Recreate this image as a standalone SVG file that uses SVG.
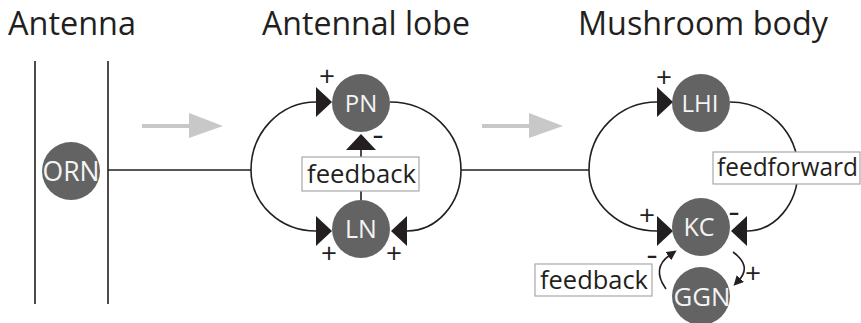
<svg xmlns="http://www.w3.org/2000/svg" width="861" height="323" viewBox="0 0 861 323">
<style>
.title{font-family:"Open Sans","Noto Sans",sans-serif;font-size:32px;fill:#231f20}
.node circle{fill:#636363}
.node text{font-family:"Open Sans","Noto Sans",sans-serif;fill:#f4f4f4;text-anchor:middle}
.conn{fill:none;stroke:#231f20;stroke-width:1.6}
.gray{stroke:#c8c8c8;stroke-width:4;fill:none}
.grayhead{fill:#c8c8c8}
.sign{font-family:"Open Sans","Noto Sans",sans-serif;font-size:28px;fill:#231f20;text-anchor:middle}
.minus{font-family:"Open Sans","Noto Sans",sans-serif;font-size:20px;font-weight:bold;fill:#231f20;text-anchor:middle}
.box rect{fill:#fff;stroke:#a8a8a8;stroke-width:1.2}
.box text{font-family:"Open Sans","Noto Sans",sans-serif;font-size:25px;fill:#231f20}
</style>
<defs>
<marker id="tri" markerUnits="userSpaceOnUse" markerWidth="16" markerHeight="30" viewBox="0 0 16 30" refX="0" refY="15" orient="auto">
<path d="M0,0 L16,15 L0,30 Z" fill="#231f20"/>
</marker>
<marker id="small" markerUnits="userSpaceOnUse" markerWidth="10" markerHeight="10" viewBox="0 0 10 10" refX="2" refY="5" orient="auto">
<path d="M0,0 L10,5 L0,10 Z" fill="#231f20"/>
</marker>
</defs>
<rect width="861" height="323" fill="#fff"/>

<g id="titles">
<text class="title" x="8" y="35" textLength="128" lengthAdjust="spacingAndGlyphs">Antenna</text>
<text class="title" x="262" y="35" textLength="208" lengthAdjust="spacingAndGlyphs">Antennal lobe</text>
<text class="title" x="578" y="35" textLength="250" lengthAdjust="spacingAndGlyphs">Mushroom body</text>
</g>

<g id="antenna">
<line class="conn" x1="35" y1="61" x2="35" y2="304"/>
<line class="conn" x1="108" y1="61" x2="108" y2="304"/>
</g>

<g id="flow-arrows">
<line class="gray" x1="142" y1="126" x2="190" y2="126"/>
<polygon class="grayhead" points="189,113 223,126 189,138"/>
<line class="gray" x1="482" y1="126" x2="530" y2="126"/>
<polygon class="grayhead" points="529,113 563,126 529,138"/>
</g>

<g id="connectors">
<line class="conn" x1="108" y1="170" x2="251" y2="170"/>
<path class="conn" d="M251 170 A65 68 0 0 1 316 102" marker-end="url(#tri)"/>
<path class="conn" d="M251 170 A65 61 0 0 0 316 231" marker-end="url(#tri)"/>
<path class="conn" d="M390 102 A71 68 0 0 1 461 170 A54 61 0 0 1 407 231" marker-end="url(#tri)"/>
<path class="conn" d="M361 200 L361 150" marker-end="url(#tri)"/>
<line class="conn" x1="461" y1="170" x2="589" y2="170"/>
<path class="conn" d="M589 170 A68 68 0 0 1 657 102" marker-end="url(#tri)"/>
<path class="conn" d="M589 170 A68 61 0 0 0 657 231" marker-end="url(#tri)"/>
<path class="conn" d="M730 102 A68 68 0 0 1 798 170 A51 61 0 0 1 747 231" marker-end="url(#tri)"/>
<path class="conn" d="M666 289 Q651 268 670 255" marker-end="url(#small)"/>
<path class="conn" d="M733 252 Q752 266 739 280" marker-end="url(#small)"/>
</g>

<g id="labels-boxes">
<g class="box" id="box-feedback-al"><rect x="302" y="157" width="117" height="34"/><text x="307" y="183" textLength="109" lengthAdjust="spacingAndGlyphs">feedback</text></g>
<g class="box" id="box-feedforward"><rect x="713" y="152" width="147" height="32"/><text x="717" y="176" textLength="141" lengthAdjust="spacingAndGlyphs">feedforward</text></g>
<g class="box" id="box-feedback-mb"><rect x="535" y="264" width="117" height="32"/><text x="540" y="289" textLength="108" lengthAdjust="spacingAndGlyphs">feedback</text></g>
</g>

<g id="node-ORN" class="node"><circle cx="71" cy="171" r="29"/><text x="71" y="180.5" font-size="27" textLength="57" lengthAdjust="spacingAndGlyphs">ORN</text></g>
<g id="node-PN" class="node"><circle cx="361" cy="103" r="29"/><text x="361" y="111.5" font-size="24">PN</text></g>
<g id="node-LN" class="node"><circle cx="361" cy="229" r="29"/><text x="361" y="238" font-size="25">LN</text></g>
<g id="node-LHI" class="node"><circle cx="701" cy="103" r="29"/><text x="700" y="111.5" font-size="24" textLength="37" lengthAdjust="spacingAndGlyphs">LHI</text></g>
<g id="node-KC" class="node"><circle cx="701" cy="227" r="29"/><text x="699" y="236" font-size="25">KC</text></g>
<g id="node-GGN" class="node"><circle cx="701" cy="296" r="29"/><text x="702" y="305.5" font-size="26" textLength="57" lengthAdjust="spacingAndGlyphs">GGN</text></g>

<g id="signs">
<text class="sign" x="327" y="86">+</text>
<text class="minus" x="378" y="142">–</text>
<text class="sign" x="329" y="263">+</text>
<text class="sign" x="394" y="263">+</text>
<text class="sign" x="664" y="87">+</text>
<text class="sign" x="647" y="225">+</text>
<text class="minus" x="734" y="219">–</text>
<text class="minus" x="652" y="262">–</text>
<text class="sign" x="753" y="283">+</text>
</g>
</svg>
